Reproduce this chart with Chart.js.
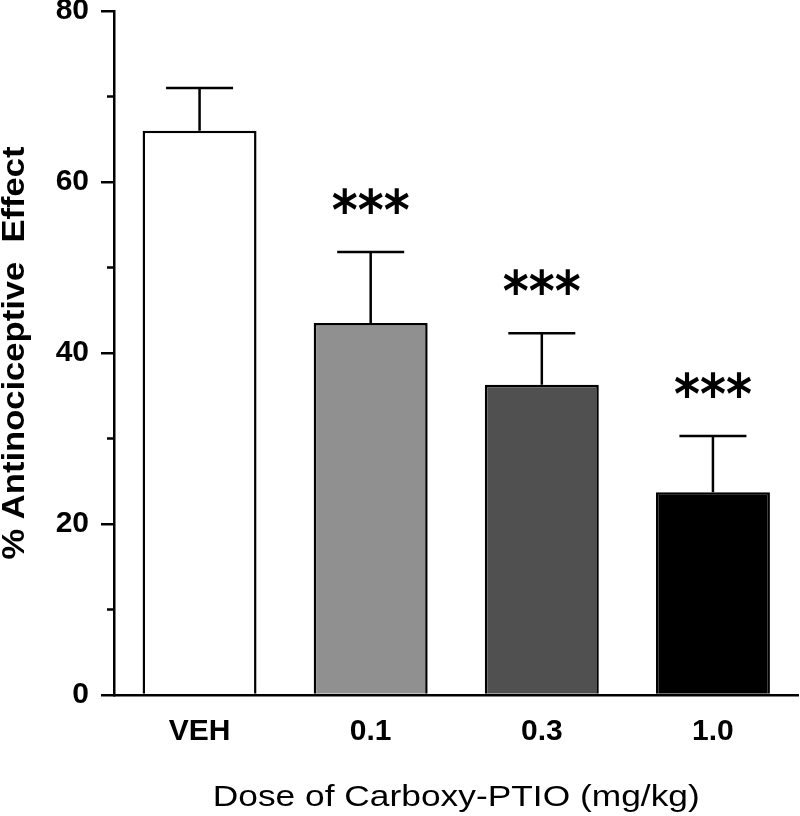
<!DOCTYPE html>
<html>
<head>
<meta charset="utf-8">
<script src="https://cdn.jsdelivr.net/npm/chart.js@4"></script>
<style>
html, body { margin: 0; padding: 0; background: #fff; }
#wrap { width: 800px; height: 816px; }
</style>
</head>
<body>
<div id="wrap"><canvas id="chart"></canvas></div>
<script>
// values (mean + upward SEM)
const doses = ['VEH', '0.1', '0.3', '1.0'];
const effectMean = [66, 43.5, 36.3, 23.7];
const effectSem = [5.0, 8.3, 6.0, 6.6];
const signif = ['', '***', '***', '***'];
const minorTicks = [10, 30, 50, 70];
const xTitle = 'Dose of Carboxy-PTIO (mg/kg)';
const yTitle = '% Antinociceptive  Effect';

// error bars + asterisks on top of each bar
const errorBars = {
    id: 'errorBars',
    afterDatasetsDraw(chart) {
        const ctx = chart.ctx;
        const y = chart.scales.y;
        const meta = chart.getDatasetMeta(0);
        ctx.save();
        ctx.strokeStyle = '#000';
        ctx.fillStyle = '#000';
        ctx.lineWidth = 2.5;
        meta.data.forEach(function(bar, i){
            let top = y.getPixelForValue(effectMean[i] + effectSem[i]);
            ctx.beginPath();
            ctx.moveTo(bar.x, bar.y);
            ctx.lineTo(bar.x, top);
            ctx.moveTo(bar.x - 33.5, top);
            ctx.lineTo(bar.x + 33.5, top);
            ctx.stroke();
            if (signif[i]) {
                ctx.font = 'bold 56px "DejaVu Sans"';
                let m = ctx.measureText('*');
                let asc = m.actualBoundingBoxAscent, desc = m.actualBoundingBoxDescent;
                ctx.textAlign = 'center';
                ctx.textBaseline = 'alphabetic';
                let cy = top - 51;
                stretchText(ctx, signif[i], bar.x, cy - (desc - asc) / 2, 78);
            }
        });
        ctx.restore();
    }
};

// short minor ticks on the y axis and the two axis titles
function stretchText(ctx, text, x, y, width){
    let w = ctx.measureText(text).width;
    ctx.save();
    ctx.translate(x, y);
    ctx.scale(width / w, 1);
    ctx.textAlign = 'center';
    ctx.textBaseline = 'alphabetic';
    ctx.fillText(text, 0, 0);
    ctx.restore();
}

const extras = {
    id: 'extras',
    afterDraw(chart) {
        const ctx = chart.ctx;
        const y = chart.scales.y;
        const area = chart.chartArea;
        ctx.save();
        ctx.strokeStyle = '#000';
        ctx.lineWidth = 2.5;
        minorTicks.forEach(function(v){
            let py = y.getPixelForValue(v);
            ctx.beginPath();
            ctx.moveTo(area.left - 7, py);
            ctx.lineTo(area.left, py);
            ctx.stroke();
        });
        ctx.fillStyle = '#000';

        ctx.font = '30px "Liberation Sans", Arial, sans-serif';
        stretchText(ctx, xTitle, (area.left + area.right) / 2, 806, 487);

        ctx.save();
        ctx.translate(24, (area.top + area.bottom) / 2);
        ctx.rotate(-Math.PI / 2);
        ctx.font = 'bold 31px "Liberation Sans", Arial, sans-serif';
        stretchText(ctx, yTitle, 0, 0, 413);
        ctx.restore();
        ctx.restore();
    }
};

const chart_effect = new Chart(document.getElementById('chart'), {
    type: 'bar',
    data: {
        labels: doses,
        datasets: [{
            data: effectMean,
            backgroundColor: ['#ffffff', '#909090', '#505050', '#000000'],
            borderColor: '#000',
            borderWidth: 2.5,
            barPercentage: 0.666,
            categoryPercentage: 1.0,
        }],
    },
    options: {
        responsive: true,
        maintainAspectRatio: false,
        animation: false,
        layout: { padding: { top: 11, right: 1.5, left: 0, bottom: 0 } },
        plugins: {
            legend: { display: false },
            tooltip: { enabled: false },
        },
        scales: {
            x: {
                grid: { display: false, drawTicks: false },
                border: { color: '#000', width: 2.5 },
                ticks: {
                    color: '#000',
                    padding: 19,
                    font: { family: '"Liberation Sans", Arial', size: 30, weight: 'bold' },
                },
                afterFit(s){
                    s.height = 121;
                    s.paddingLeft = 0;
                    s.paddingRight = 0;
                },
            },
            y: {
                min: 0,
                max: 80,
                ticks: {
                    stepSize: 20,
                    color: '#000',
                    padding: 12,
                    font: { family: '"Liberation Sans Narrow", "Liberation Sans", Arial', size: 30, weight: 'bold' },
                },
                grid: { drawOnChartArea: false, color: '#000', lineWidth: 2.5, tickLength: 13 },
                border: { color: '#000', width: 2.5 },
                afterFit(s){
                    s.width = 114;
                    s.paddingTop = 0;
                    s.paddingBottom = 0;
                },
            },
        },
    },
    plugins: [errorBars, extras],
});
</script>
</body>
</html>
